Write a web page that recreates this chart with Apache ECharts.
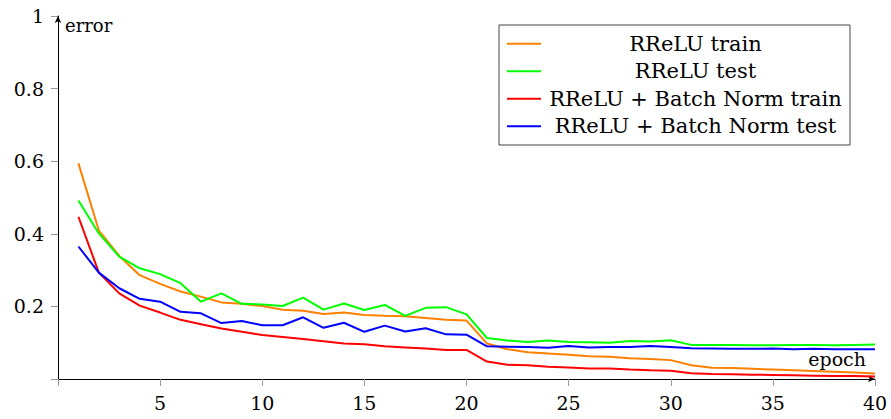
<!DOCTYPE html>
<html>
<head>
<meta charset="utf-8">
<script src="https://cdn.jsdelivr.net/npm/echarts@6/dist/echarts.min.js"></script>
<style>html,body{margin:0;padding:0;background:#fff}#c{width:891px;height:419px}</style>
</head>
<body>
<div id="c"></div>
<script>
var epochs = [];
for (var i = 1; i <= 40; i++) epochs.push(i);
var seriesNames = ['RReLU train', 'RReLU test', 'RReLU + Batch Norm train', 'RReLU + Batch Norm test'];
var rreluTrain = [0.594,0.409,0.339,0.286,0.262,0.241,0.227,0.211,0.207,0.201,0.191,0.188,0.179,0.183,0.176,0.174,0.173,0.168,0.163,0.161,0.098,0.082,0.074,0.070,0.067,0.063,0.061,0.057,0.055,0.052,0.038,0.031,0.030,0.028,0.026,0.024,0.022,0.020,0.018,0.015];
var rreluTest = [0.492,0.401,0.337,0.305,0.289,0.264,0.213,0.236,0.207,0.205,0.201,0.224,0.191,0.208,0.190,0.204,0.174,0.196,0.198,0.178,0.113,0.106,0.102,0.106,0.102,0.101,0.100,0.105,0.103,0.107,0.094,0.094,0.094,0.093,0.093,0.094,0.094,0.093,0.094,0.095];
var bnTrain = [0.447,0.293,0.236,0.202,0.183,0.163,0.151,0.139,0.130,0.121,0.116,0.110,0.104,0.098,0.096,0.090,0.087,0.084,0.080,0.080,0.048,0.039,0.038,0.034,0.032,0.029,0.029,0.026,0.024,0.023,0.016,0.014,0.013,0.012,0.011,0.010,0.009,0.008,0.008,0.007];
var bnTest = [0.365,0.293,0.250,0.221,0.213,0.185,0.181,0.154,0.160,0.148,0.148,0.170,0.141,0.155,0.130,0.147,0.131,0.140,0.123,0.122,0.090,0.089,0.088,0.086,0.091,0.087,0.088,0.088,0.091,0.088,0.085,0.084,0.083,0.083,0.084,0.082,0.083,0.082,0.082,0.082];
var colors = ['#ff8000', '#00ff00', '#ff0000', '#0000ff'];
var xTicks = [5,10,15,20,25,30,35,40];
var yTicks = [0.2,0.4,0.6,0.8,1];

var font = 'DejaVu Serif';
function pairs(arr){ return arr.map(function(v,i){ return [epochs[i], v]; }); }
var allData = [rreluTrain, rreluTest, bnTrain, bnTest];

var chart = echarts.init(document.getElementById('c'), null, {renderer: 'svg'});
chart.setOption({
  animation: false,
  backgroundColor: '#fff',
  grid: {left: 58, right: 16, top: 16, bottom: 40, containLabel: false},
  xAxis: {
    type: 'value', min: 0, max: 40, interval: 5,
    axisLine: {show: true, symbol: ['none', 'arrow'], symbolSize: [5, 7], lineStyle: {color: '#000', width: 1}},
    axisTick: {show: true, length: 7, lineStyle: {color: '#999'}},
    axisLabel: {margin: 14, fontFamily: font, fontSize: 19, color: '#000',
      formatter: function(v){ return xTicks.indexOf(v) >= 0 ? String(v) : ''; }},
    splitLine: {show: false}
  },
  yAxis: {
    type: 'value', min: 0, max: 1, interval: 0.2,
    axisLine: {show: true, symbol: ['none', 'arrow'], symbolSize: [5, 7], lineStyle: {color: '#000', width: 1}},
    axisTick: {show: true, length: 7, lineStyle: {color: '#999'}},
    axisLabel: {margin: 14, fontFamily: font, fontSize: 19, color: '#000',
      formatter: function(v){
        var r = Math.round(v*10)/10;
        for (var k = 0; k < yTicks.length; k++) if (Math.abs(yTicks[k]-r) < 1e-9) return r === 1 ? '1' : String(r);
        return '';
      }},
    splitLine: {show: false}
  },
  legend: {
    orient: 'vertical', left: 499, top: 25,
    backgroundColor: '#fff',
    borderColor: '#444', borderWidth: 1,
    padding: [5, 5, 5, 8],
    itemGap: 0, itemWidth: 34, itemHeight: 2, icon: 'rect',
    data: seriesNames,
    formatter: '{c|{name}}',
    textStyle: {fontFamily: font, fontSize: 21, color: '#000', lineHeight: 27.5,
      rich: {c: {width: 299, height: 27.5, align: 'center', lineHeight: 27.5, fontFamily: font, fontSize: 21}}}
  },
  graphic: [
    {type: 'text', left: 65, top: 16, style: {text: 'error', font: '18px "DejaVu Serif"', fill: '#000'}},
    {type: 'text', right: 25, top: 349, style: {text: 'epoch', font: '19px "DejaVu Serif"', fill: '#000'}}
  ],
  series: allData.map(function(d, i){
    return {
      name: seriesNames[i], type: 'line', data: pairs(d),
      showSymbol: false, symbol: 'none',
      lineStyle: {color: colors[i], width: 2},
      itemStyle: {color: colors[i]},
      z: 2 + i
    };
  })
});
</script>
</body>
</html>
